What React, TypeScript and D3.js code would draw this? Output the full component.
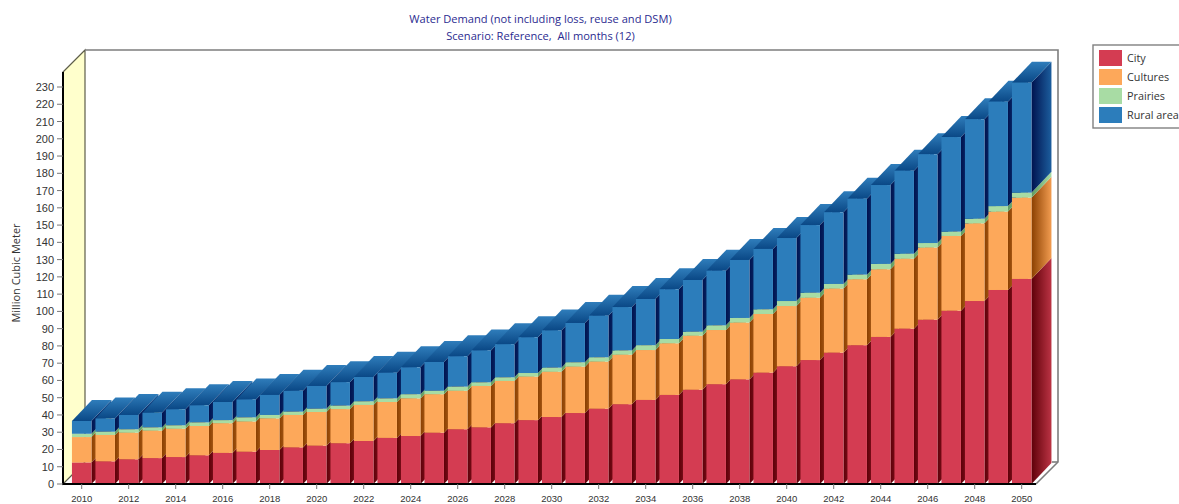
import React from "react";
import * as d3 from "d3";

// Water demand by demand site, million cubic meters per year
const years = d3.range(2010, 2051);
const city = [12.5,13.1,14.3,15,15.6,16.6,18,18.7,19.7,21.2,22.2,23.6,24.9,26.7,27.8,29.7,31.7,32.8,35.2,37,38.8,41.1,43.6,46.2,48.7,51.6,54.6,57.8,60.6,64.5,68.2,71.8,76.1,80.4,85.2,90,95.2,100.4,106,112.4,118.8];
const cultures = [14.7,15.3,15.4,15.9,16.4,17,17.2,17.5,18.3,18.8,19.5,19.8,20.9,20.8,21.8,22.3,22.3,24,24.5,25.2,26.2,26.9,27.3,28.7,28.9,29.9,31.3,31.4,32.9,34,34.9,36.1,37.1,38.2,39.2,40.5,41.8,43.3,45,45.4,47.1];
const prairies = [1.9,1.9,2,1.9,2,2.1,1.8,2.4,2,1.9,1.9,2,2.1,2.1,2.4,2,2.4,2.1,2.1,2.1,2.4,2.5,2.5,2.5,2.8,2.5,2.3,2.7,2.7,2.7,2.9,2.9,2.7,2.7,3.1,2.9,2.6,2.5,2.7,3.2,2.9];
const ruralArea = [7.4,7.7,8.3,8.5,9.3,9.9,10.5,10.4,11.6,12.1,13.2,13.6,14.1,14.9,15.6,16.7,17.6,18.5,19.2,20.7,21.6,22.8,24.1,25.1,26.8,28.8,30,31.7,33.6,35,36.5,39.2,41.5,44,45.7,48.1,51.4,54.8,57.6,60.5,63.7];

const seriesKeys = ["City", "Cultures", "Prairies", "Rural area"];
const seriesValues = [city, cultures, prairies, ruralArea];
const frontColors = ["#d43c52", "#fda85a", "#a8dca4", "#2c7dbb"];
const sideDark = ["#5e0008", "#8a3f00", "#5f9a5f", "#00124f"];
const sideLight = ["#bb3344", "#f29c50", "#a8dca4", "#1c5e9e"];

const yTicks = d3.range(0, 231, 10);
const xTicks = years.filter((y) => y % 2 === 0);

const WIDTH = 1179;
const HEIGHT = 504;
const DEPTH_X = 20;
const DEPTH_Y = 21;
const WALL_X = 22;
const WALL_Y = 22;
const BAR_W = 19.5;
const AXIS_X = 63;
const FLOOR_Y = 484;
const RIGHT_X = 1036;
const UI_FONT = "'Open Sans', 'Noto Sans', sans-serif";
const AXIS_FONT = "'Liberation Sans', Arial, sans-serif";

const x = d3.scaleLinear().domain([2010, 2050]).range([81.7, 1021.7]);
const y = d3.scaleLinear().domain([0, 230]).range([FLOOR_Y, 87]);

const rows = years.map((yr, i) => {
  const row: Record<string, number> = { year: yr };
  seriesKeys.forEach((k, s) => (row[k] = seriesValues[s][i]));
  return row;
});
const stacked = d3.stack<Record<string, number>>().keys(seriesKeys)(rows);

const poly = (pts: [number, number][]) => d3.line()(pts) + "Z";

export default function App() {
  const topY = y(230) - 15;
  return (
    <svg
      width={WIDTH}
      height={HEIGHT}
      style={{ position: "absolute", left: 0, top: 0, background: "#fff" }}
    >
      <defs>
        {seriesKeys.map((_, s) => (
          <linearGradient key={s} id={`side${s}`} x1="0" x2="1" y1="0" y2="0">
            <stop offset="0" stopColor={sideDark[s]} />
            <stop offset="1" stopColor={sideLight[s]} />
          </linearGradient>
        ))}
        <linearGradient id="roof" x1="0" x2="0" y1="1" y2="0">
          <stop offset="0" stopColor="#0a4886" />
          <stop offset="1" stopColor="#2f7dbb" />
        </linearGradient>
      </defs>

      <g fontFamily={UI_FONT} fill="#2b2b90" fontSize={11.1} textAnchor="middle">
        <text x={540.5} y={23}>Water Demand (not including loss, reuse and DSM)</text>
        <text x={540.5} y={40} xmlSpace="preserve">{"Scenario: Reference,\u00a0 All months (12)"}</text>
      </g>

      {/* Back wall, side wall and floor edges */}
      <path
        d={poly([[AXIS_X, topY], [AXIS_X + WALL_X, topY - WALL_Y], [AXIS_X + WALL_X, FLOOR_Y - WALL_Y], [AXIS_X, FLOOR_Y]])}
        fill="#ffffcc"
        stroke="#5e5e4a"
        strokeWidth={1.2}
      />
      <path
        d={`M${AXIS_X + WALL_X},${topY - WALL_Y}H${RIGHT_X + WALL_X}V${FLOOR_Y - WALL_Y}L${RIGHT_X},${FLOOR_Y}`}
        fill="none"
        stroke="#7d7d7d"
        strokeWidth={1.6}
      />
      <path d={`M${RIGHT_X - 4 + DEPTH_X},${FLOOR_Y - WALL_Y}H${RIGHT_X + WALL_X}`} stroke="#7d7d7d" strokeWidth={1.6} />

      {/* Extruded stacked columns, painted left to right so each hides its neighbour's side */}
      {years.map((yr, i) => {
        const x0 = x(yr) - BAR_W / 2;
        const x1 = x0 + BAR_W;
        return (
          <g key={yr}>
            {stacked.map((layer, s) => {
              const yb = y(layer[i][0]);
              const yt = y(layer[i][1]);
              return (
                <path
                  key={s}
                  d={poly([[x1, yb], [x1 + DEPTH_X, yb - DEPTH_Y], [x1 + DEPTH_X, yt - DEPTH_Y], [x1, yt]])}
                  fill={`url(#side${s})`}
                />
              );
            })}
            <path
              d={poly([
                [x0, y(stacked[3][i][1])],
                [x0 + DEPTH_X, y(stacked[3][i][1]) - DEPTH_Y],
                [x1 + DEPTH_X, y(stacked[3][i][1]) - DEPTH_Y],
                [x1, y(stacked[3][i][1])],
              ])}
              fill="url(#roof)"
            />
            {stacked.map((layer, s) => (
              <rect
                key={s}
                x={x0}
                width={BAR_W}
                y={y(layer[i][1])}
                height={y(layer[i][0]) - y(layer[i][1])}
                fill={frontColors[s]}
              />
            ))}
          </g>
        );
      })}

      {/* Axes */}
      <path d={`M${AXIS_X},${topY}V${FLOOR_Y}H${RIGHT_X}`} fill="none" stroke="#000" strokeWidth={2} />
      <g fontFamily={AXIS_FONT} fontSize={11} fill="#333">
        {yTicks.map((t) => (
          <g key={t}>
            <line x1={57} x2={AXIS_X} y1={y(t)} y2={y(t)} stroke="#777" />
            <text x={54} y={y(t) + 4} textAnchor="end">{t}</text>
          </g>
        ))}
      </g>
      <g fontFamily={AXIS_FONT} fontSize={9.5} fill="#333" textAnchor="middle">
        {xTicks.map((t) => (
          <g key={t}>
            <line x1={x(t)} x2={x(t)} y1={FLOOR_Y} y2={FLOOR_Y + 5} stroke="#777" />
            <text x={x(t)} y={502}>{t}</text>
          </g>
        ))}
      </g>
      <text
        transform="translate(20,273) rotate(-90)"
        textAnchor="middle"
        fontFamily={UI_FONT}
        fontSize={11}
        fill="#333"
      >
        Million Cubic Meter
      </text>

      {/* Legend, running past the right edge of the frame */}
      <rect x={1093} y={45} width={110} height={83} fill="#fff" stroke="#808080" strokeWidth={1.4} />
      {seriesKeys.map((k, s) => (
        <g key={k}>
          <rect x={1099} y={50 + s * 19} width={23} height={16} fill={frontColors[s]} />
          <text x={1127} y={62 + s * 19} fontFamily={UI_FONT} fontSize={10.8} fill="#333">{k}</text>
        </g>
      ))}
    </svg>
  );
}
